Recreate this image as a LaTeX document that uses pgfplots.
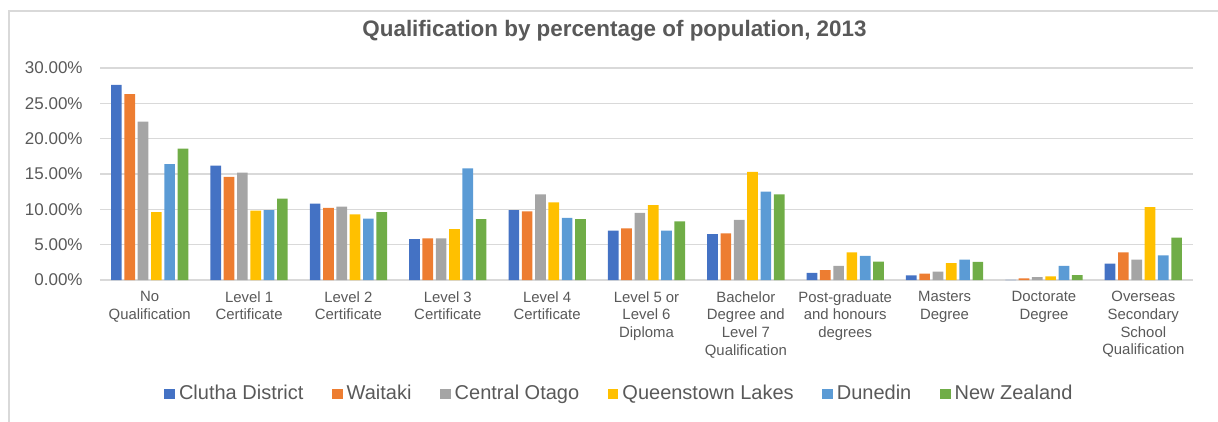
\documentclass[border=0pt]{standalone}
\usepackage{pgfplots}
\usepackage{pgfplotstable}
\usepackage{fontspec}
\setmainfont{Liberation Sans}
\pgfplotsset{compat=1.18}

\definecolor{cBlue}{HTML}{4472C4}
\definecolor{cOrange}{HTML}{ED7D31}
\definecolor{cGray}{HTML}{A5A5A5}
\definecolor{cGold}{HTML}{FFC000}
\definecolor{cLBlue}{HTML}{5B9BD5}
\definecolor{cGreen}{HTML}{70AD47}
\definecolor{txt}{HTML}{595959}
\definecolor{gridc}{HTML}{D9D9D9}

% percentages
\pgfplotstableread{
x  clutha waitaki central queenstown dunedin nz
0  27.6   26.3    22.4    9.6        16.4    18.6
1  16.2   14.6    15.2    9.8        9.9     11.5
2  10.8   10.2    10.4    9.3        8.7     9.6
3  5.8    5.9     5.9     7.2        15.8    8.6
4  9.9    9.7     12.1    11.0       8.8     8.6
5  7.0    7.3     9.5     10.6       7.0     8.3
6  6.5    6.6     8.5     15.3       12.5    12.1
7  1.0    1.4     2.0     3.9        3.4     2.6
8  0.66   0.9     1.2     2.4        2.9     2.55
9  0.03   0.24    0.4     0.5        2.0     0.7
10 2.3    3.9     2.9     10.3       3.5     6.0
}\qualdata

\begin{document}
\begin{tikzpicture}
\path[use as bounding box] (-50pt,-71pt) rectangle (559pt,140pt);
\draw[gridc, line width=0.6pt] (-45.5pt,-71pt) -- (-45.5pt,134.5pt) -- (559pt,134.5pt);
\begin{axis}[
    width=546.5pt, height=106pt,
    scale only axis,
    ybar=1.33pt,
    bar width=5.33pt,
    xmin=-0.5, xmax=10.5,
    ymin=0, ymax=30,
    ytick={0,5,...,30},
    xtick={0,...,10},
    xticklabels={{No\\Qualification},{Level 1\\Certificate},{Level 2\\Certificate},{Level 3\\Certificate},{Level 4\\Certificate},{Level 5 or\\Level 6\\Diploma},{Bachelor\\Degree and\\Level 7\\Qualification},{Post-graduate\\and honours\\degrees},{Masters\\Degree},{Doctorate\\Degree},{Overseas\\Secondary\\School\\Qualification}},
    yticklabel={\pgfmathprintnumber[fixed,fixed zerofill,precision=2]{\tick}\%},
    /pgf/number format/assume math mode=true,
    axis line style={draw=none},
    major tick length=0pt,
    xmajorgrids=false,
    ymajorgrids=true,
    grid style={draw=gridc, line width=0.65pt},
    xticklabel style={align=center, anchor=north, inner sep=0pt, yshift=-5.5pt, text=txt, font=\fontsize{7.45}{8.85}\selectfont},
    yticklabel style={anchor=east, inner sep=0pt, xshift=-8.5pt, text=txt, font=\fontsize{8.5}{10}\selectfont},
    title={\textbf{Qualification by percentage of population, 2013}},
    title style={at={(0.4707,1.1179)}, anchor=center, inner sep=0pt, text=txt, font=\fontsize{11.2}{13}\selectfont},
    legend columns=6,
    legend style={at={(0.0586,-0.538)}, anchor=west, draw=none, fill=none, inner sep=0pt,
        font=\fontsize{10}{12}\selectfont, text=txt,
        /tikz/every even column/.append style={column sep=12.3pt}},
    legend image code/.code={\fill[#1] (0pt,-2.65pt) rectangle (5.3pt,2.65pt);},
]
\addplot[fill=cBlue, draw=none] table[x=x, y=clutha] {\qualdata};
\addlegendentry{Clutha District}
\addplot[fill=cOrange, draw=none] table[x=x, y=waitaki] {\qualdata};
\addlegendentry{Waitaki}
\addplot[fill=cGray, draw=none] table[x=x, y=central] {\qualdata};
\addlegendentry{Central Otago}
\addplot[fill=cGold, draw=none] table[x=x, y=queenstown] {\qualdata};
\addlegendentry{Queenstown Lakes}
\addplot[fill=cLBlue, draw=none] table[x=x, y=dunedin] {\qualdata};
\addlegendentry{Dunedin}
\addplot[fill=cGreen, draw=none] table[x=x, y=nz] {\qualdata};
\addlegendentry{New Zealand}
\end{axis}
\end{tikzpicture}
\end{document}
